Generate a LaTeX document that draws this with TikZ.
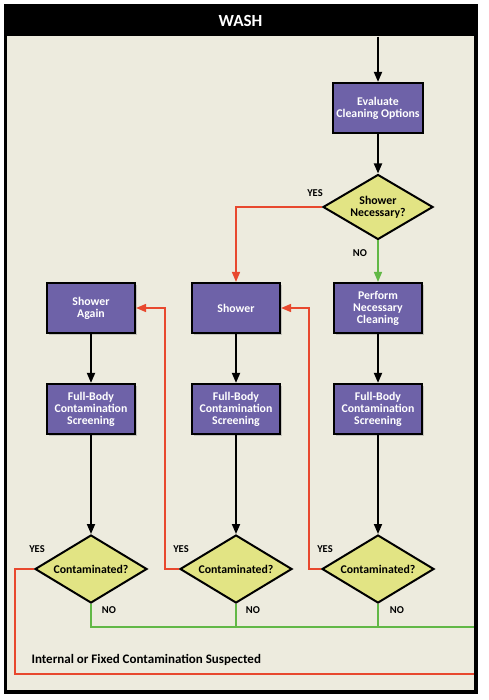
\documentclass[tikz,border=0pt]{standalone}
\usepackage{fontspec}
\setmainfont{Carlito}
\definecolor{washbg}{RGB}{237, 235, 222}
\definecolor{steppurple}{RGB}{110, 98, 168}
\definecolor{askyellow}{RGB}{226, 228, 132}
\definecolor{yesred}{RGB}{232, 72, 46}
\definecolor{nogreen}{RGB}{98, 184, 70}
\usepackage{tikz}
\usetikzlibrary{shapes.geometric, arrows.meta, shadows}
\tikzset{
    stepbox/.style={draw, rectangle, line width=2.2pt, fill=steppurple, text=white, minimum width=88pt, minimum height=50pt, font=\fontsize{11.8}{12}\selectfont\bfseries, align=center, drop shadow={opacity=0.35, shadow xshift=1.5pt, shadow yshift=-1.5pt}},
    askbox/.style={draw, diamond, line width=2pt, fill=askyellow, minimum width=112pt, minimum height=68pt, aspect=1.6, inner sep=0pt, font=\fontsize{11.8}{12}\selectfont\bfseries, align=center},
    headbar/.style={fill=black, text=white, minimum width=471pt, minimum height=32pt, font=\fontsize{17}{19}\selectfont\bfseries},
    flowarrow/.style={-{Triangle[length=10pt, width=8pt]}, line width=1.8pt},
    yesline/.style={line width=1.6pt, draw=yesred},
    noline/.style={line width=1.6pt, draw=nogreen},
    yesarrow/.style={yesline, -{Triangle[length=10pt, width=8pt]}, yesred},
    noarrow/.style={noline, -{Triangle[length=10pt, width=8pt]}, nogreen},
    answer/.style={font=\fontsize{10.5}{12}\selectfont\bfseries},
}
\begin{document}
\begin{tikzpicture}[x=1pt, y=-1pt]
    \useasboundingbox (0,0) rectangle (488,700);
    \fill[white] (0,0) rectangle (488,700);
    % panel
    \fill[washbg] (6,36) rectangle (475,691);
    \node[headbar] (head) at (240.5,20.5) {WASH};

    % right column
    \node[stepbox] (eval) at (378,108) {Evaluate\\Cleaning Options};
    \node[askbox, minimum width=110pt, minimum height=65pt] (need) at (378,207) {Shower\\Necessary?};
    \node[stepbox] (perform) at (378,308) {Perform\\Necessary\\Cleaning};
    \node[stepbox] (screen3) at (378,409) {Full-Body\\Contamination\\Screening};
    \node[askbox] (cont3) at (378,569) {Contaminated?};

    % middle column
    \node[stepbox] (shower) at (236,308) {Shower};
    \node[stepbox] (screen2) at (236,409) {Full-Body\\Contamination\\Screening};
    \node[askbox] (cont2) at (236,569) {Contaminated?};

    % left column
    \node[stepbox] (again) at (91,308) {Shower\\Again};
    \node[stepbox] (screen1) at (91,409) {Full-Body\\Contamination\\Screening};
    \node[askbox] (cont1) at (91,569) {Contaminated?};

    % answers
    \node[answer] (needyes) at (315,193) {YES};
    \node[answer] (needno) at (360,253) {NO};
    \node[answer] (yes1) at (37,549) {YES};
    \node[answer] (yes2) at (181,549) {YES};
    \node[answer] (yes3) at (325,549) {YES};
    \node[answer] (no1) at (109,610) {NO};
    \node[answer] (no2) at (253,610) {NO};
    \node[answer] (no3) at (397,610) {NO};
    \node[anchor=west, font=\fontsize{13}{15}\selectfont\bfseries] (suspect) at (28,660) {Internal or Fixed Contamination Suspected};

    \coordinate (outG) at (475,627);
    \coordinate (outR) at (475,674);

    % flow
    \draw[flowarrow] (eval |- head.south) -- (eval);
    \draw[flowarrow] (eval) -- (need);
    \draw[yesarrow] (need.west) -| (shower.north);
    \draw[noarrow] (need.south) -- (perform.north);
    \draw[flowarrow] (perform) -- (screen3);
    \draw[flowarrow] (shower) -- (screen2);
    \draw[flowarrow] (again) -- (screen1);
    \draw[flowarrow] (screen1) -- (cont1);
    \draw[flowarrow] (screen2) -- (cont2);
    \draw[flowarrow] (screen3) -- (cont3);

    % loops back
    \draw[yesarrow] (cont2.west) -- ++(-14,0) |- (again.east);
    \draw[yesarrow] (cont3.west) -- ++(-12,0) |- (shower.east);
    \draw[yesline] (cont1.west) -- ++(-19,0) |- (outR);
    \draw[noline] (cont1.south) |- (outG);
    \draw[noline] (cont2.south) -- (cont2.south |- outG);
    \draw[noline] (cont3.south) -- (cont3.south |- outG);

    % frame
    \draw[line width=3.5pt] (5.5,5.5) rectangle (476,692);
\end{tikzpicture}
\end{document}
